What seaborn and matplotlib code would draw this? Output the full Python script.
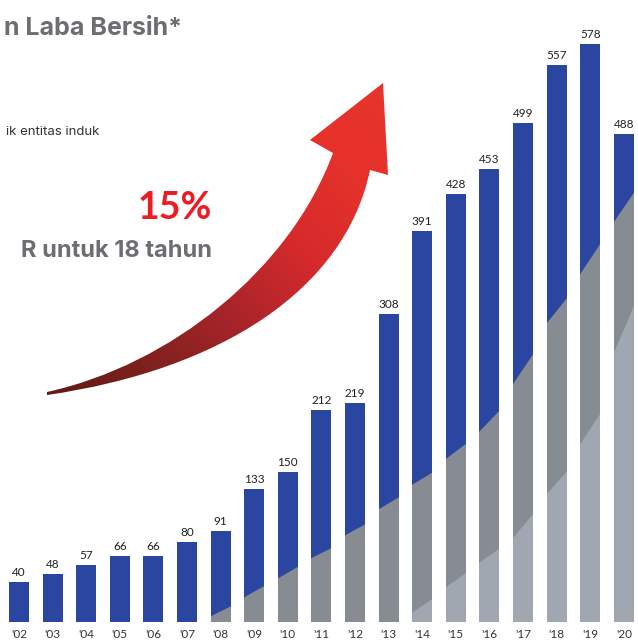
import numpy as np
import pandas as pd
import matplotlib
matplotlib.use("Agg")
import matplotlib.pyplot as plt
import seaborn as sns
from matplotlib.path import Path
from matplotlib.patches import PathPatch
from matplotlib.colors import LinearSegmentedColormap

# data
years = ["'02", "'03", "'04", "'05", "'06", "'07", "'08", "'09", "'10", "'11",
         "'12", "'13", "'14", "'15", "'16", "'17", "'18", "'19", "'20"]
laba = [40, 48, 57, 66, 66, 80, 91, 133, 150, 212, 219, 308, 391, 428, 453, 499, 557, 578, 488]

# decorative grey band inside the bars (x = bar index, y = value)
dark_x = [5.35, 5.74, 6.34, 6.73, 7.26, 7.74, 8.30, 8.72, 9.32, 9.73, 10.33, 10.68, 11.28,
          11.70, 12.29, 12.71, 13.30, 13.69, 14.29, 14.70, 15.30, 15.71, 16.31, 16.70,
          17.29, 17.68, 18.27, 18.63]
dark_y = [0, 7, 17, 26, 36, 45, 56, 65, 75, 88, 99, 113, 125, 138, 150, 164, 179, 191,
          212, 239, 269, 300, 325, 349, 379, 400, 429, 446]
light_x = [11.25, 11.70, 12.26, 12.68, 13.27, 13.69, 14.29, 14.70, 15.30, 15.71, 16.31,
           16.70, 17.29, 17.68, 18.27, 18.63]
light_y = [0, 10, 23, 35, 49, 60, 74, 85, 109, 129, 152, 179, 209, 269, 315, 342]

sns.set_theme(style="white")
plt.rcParams['font.family'] = ['Lato', 'DejaVu Sans']

W, H = 638, 643
fig = plt.figure(figsize=(W / 100, H / 100), dpi=100)
ax = fig.add_axes([0, 21 / H, 1, 622 / H])

df = pd.DataFrame({"tahun": years, "laba": laba})
sns.barplot(data=df, x="tahun", y="laba", color="#2a46a0", saturation=1,
            width=0.6, linewidth=0, ax=ax)
ax.bar_label(ax.containers[0], padding=3, fontsize=8.5, color="#231f20")

ax.set_xlim(-19 / 33.6, (W - 19) / 33.6)
ax.set_ylim(0, 622)
ax.set_xlabel("")
ax.set_ylabel("")
ax.set_yticks([])
ax.tick_params(axis="x", length=0, pad=5, labelsize=8.5, labelcolor="#333333")
sns.despine(ax=ax, left=True, bottom=True)

# grey band clipped to the bars
rects = [p.get_path().transformed(p.get_patch_transform()) for p in ax.patches]
clip = Path.make_compound_path(*rects)
for xs, ys, c in [(dark_x, dark_y, "#878c92"), (light_x, light_y, "#a0a7b1")]:
    band = ax.fill_between(xs, 0, ys, color=c, linewidth=0, zorder=3)
    band.set_clip_path(clip, ax.transData)

# overlay in pixel coordinates for texts and the arrow
ov = fig.add_axes([0, 0, 1, 1])
ov.set_xlim(0, W)
ov.set_ylim(H, 0)
ov.axis("off")
ov.patch.set_alpha(0)

verts = [(47, 392), (170, 365), (290, 270), (333, 153),   # upper edge
         (310, 140), (383, 83), (388, 175), (370, 170),    # head
         (345, 290), (220, 370), (47, 395),                # lower edge
         (47, 392)]
codes = [Path.MOVETO, Path.CURVE4, Path.CURVE4, Path.CURVE4,
         Path.LINETO, Path.LINETO, Path.LINETO, Path.LINETO,
         Path.CURVE4, Path.CURVE4, Path.CURVE4,
         Path.CLOSEPOLY]
arrow = PathPatch(Path(verts, codes), facecolor="none", edgecolor="none")
ov.add_patch(arrow)
cmap = LinearSegmentedColormap.from_list(
    "arrow", ["#5e1a14", "#7e211c", "#a8242a", "#d62a2c", "#e6322a", "#e8352b"])
gx, gy = np.meshgrid(np.linspace(40, 400, 200), np.linspace(70, 400, 200))
grad = (gx - 47) + (400 - gy)
im = ov.imshow(grad, extent=(40, 400, 400, 70), origin="upper", cmap=cmap,
               aspect="auto", interpolation="bilinear")
im.set_clip_path(arrow)

ov.text(182, 35, "n Laba Bersih*", ha="right", va="baseline", fontsize=18,
        fontweight="bold", color="#6d6e72", family=["Inter", "DejaVu Sans"])
ov.text(99, 135, "ik entitas induk", ha="right", va="baseline", fontsize=9.5,
        color="#333333", family=["Inter", "DejaVu Sans"])
ov.text(212, 219, "15%", ha="right", va="baseline", fontsize=27,
        fontweight="bold", color="#ed1c24")
ov.text(212, 257, "R untuk 18 tahun", ha="right", va="baseline", fontsize=17,
        fontweight="bold", color="#6d6e72", family=["Inter", "DejaVu Sans"])

fig.savefig("out.png", dpi=100)
